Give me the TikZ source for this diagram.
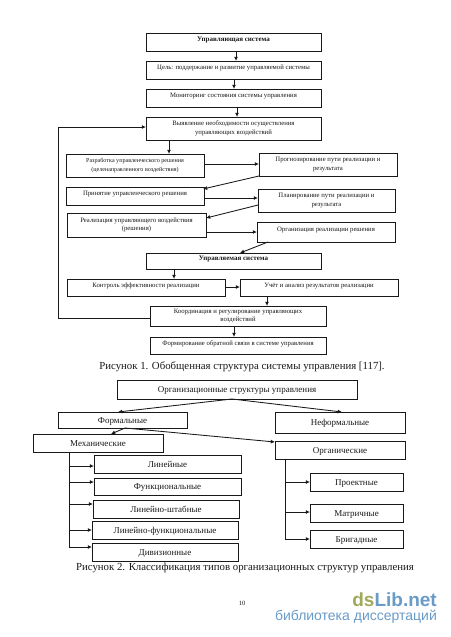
\documentclass[tikz,border=0pt]{standalone}
\usepackage{fontspec}
\setmainfont{Liberation Serif}
\newfontfamily\wmfont{Liberation Sans}
\usetikzlibrary{arrows.meta}
\definecolor{wmgreen}{RGB}{160,170,90}
\definecolor{wmblue}{RGB}{105,155,200}
\definecolor{ink}{RGB}{25,25,25}
\tikzset{
  bx/.style={draw=ink,line width=0.85pt,outer sep=0pt,inner sep=0pt,align=center,text=ink,font=\fontsize{6.7}{8.6}\selectfont},
  lift/.style={text height=5pt,text depth=5.5pt},
  widetxt/.style={font=\fontsize{6.7}{9.6}\selectfont},
  smalltxt/.style={font=\fontsize{6.1}{9}\selectfont},
  largetxt/.style={font=\fontsize{9}{11}\selectfont,text height=8.5pt,text depth=2pt},
  boldtxt/.style={font=\fontsize{7}{9}\selectfont\bfseries},
  arr/.style={draw=ink,line width=0.85pt,-{Latex[length=4.2pt,width=4pt]}},
  ln/.style={draw=ink,line width=0.85pt},
  captext/.style={text=ink,inner sep=0pt,font=\fontsize{10.8}{12}\selectfont}
}
\newcommand\tbx[7][]{\node[bx,#1,minimum width={(#5-#3)*1pt},minimum height={(#6-#4)*1pt}] (#2) at ({(#3+#5)/2},{(#4+#6)/2}) {#7};}
\begin{document}
\begin{tikzpicture}[x=1pt,y=-1pt]
\useasboundingbox[fill=white] (0,0) rectangle (450,637);
% Figure 1
\tbx[boldtxt,lift]{a}{146}{33}{321}{51}{Управляющая система}
\tbx[lift]{b}{146}{61}{321}{79}{Цель: поддержание и развитие управляемой системы}
\tbx[lift]{c}{146}{89}{321}{107}{Мониторинг состояния системы управления}
\tbx[widetxt]{d}{146}{117}{321}{140}{Выявление необходимости осуществления\\управляющих воздействий}
\tbx[smalltxt]{e}{66}{154}{204}{177}{Разработка управленческого решения\\(целенаправленного воздействия)}
\tbx{f}{259}{153}{397}{176}{Прогнозирование пути реализации и\\результата}
\tbx[lift]{g}{66}{187}{204}{205}{Принятие управленческого решения}
\tbx{h}{258}{189}{395}{212}{Планирование пути реализации и\\результата}
\tbx{i}{67}{213}{206}{237}{Реализация управляющего воздействия\\(решения)}
\tbx[lift]{j}{257}{222}{395}{242}{Организация реализации решения}
\tbx[boldtxt,lift]{k}{146}{253}{321}{269}{Управляемая система}
\tbx[lift]{l}{67}{279}{225}{296}{Контроль эффективности реализации}
\tbx[lift]{m}{240}{279}{398}{296}{Учёт и анализ результатов реализации}
\tbx{n}{150}{306}{326}{326}{Координация и регулирование управляющих\\воздействий}
\tbx[lift]{o}{150}{337}{326}{354}{Формирование обратной связи в системе управления}
\draw[arr] ([xshift=90pt]a.south west) -- ([xshift=90pt]b.north west);
\draw[arr] ([xshift=88pt]b.south west) -- ([xshift=88pt]c.north west);
\draw[arr] ([xshift=91pt]c.south west) -- ([xshift=91pt]d.north west);
\draw[arr] ([xshift=23pt]d.south west) -- ([xshift=103pt]e.north west);
\draw[arr] ([yshift=-10pt]e.north east) -- ([yshift=-11pt]f.north west);
\draw[arr] (f.south west) -- ([xshift=-1pt,yshift=-2pt]g.north east);
\draw[arr] ([yshift=-11pt]g.north east) -- ([yshift=-9pt]h.north west);
\draw[arr] ([yshift=-16pt]h.north west) -- ([yshift=-5pt]i.north east);
\draw[arr] ([yshift=-19pt]i.north east) -- ([yshift=-10pt]j.north west);
\draw[arr] ([xshift=11pt]j.south west) -- ([xshift=94pt]k.north west);
\draw[arr] ([xshift=28pt]k.south west) -- ([xshift=107pt]l.north west);
\draw[arr] ([yshift=-8pt]l.north east) -- ([yshift=-8pt]m.north west);
\draw[arr] ([xshift=27pt]m.south west) -- ([xshift=117pt]n.north west);
\draw[arr] ([xshift=84pt]n.south west) -- ([xshift=84pt]o.north west);
\coordinate (fbA) at (58,318);
\coordinate (fbB) at (58,127);
\draw[arr] ([yshift=-12pt]n.north west) -- (fbA) -- (fbB) -- ([yshift=-10pt]d.north west);
\node[captext] (cap1) at (242,367) {Рисунок 1. Обобщенная структура системы управления [117].};
% Figure 2
\tbx[largetxt]{r}{117}{380}{357}{399}{Организационные структуры управления}
\tbx[largetxt]{s}{58}{412}{187}{428}{Формальные}
\tbx[largetxt]{t}{275}{412}{405}{433}{Неформальные}
\tbx[largetxt]{u}{33}{434}{163}{452}{Механические}
\tbx[largetxt]{v}{275}{441}{405}{459}{Органические}
\tbx[largetxt]{w1}{94}{455}{241}{473}{Линейные}
\tbx[largetxt]{w2}{94}{478}{241}{495}{Функциональные}
\tbx[largetxt]{w3}{93}{500}{239}{518}{Линейно-штабные}
\tbx[largetxt]{w4}{92}{521}{238}{539}{Линейно-функциональные}
\tbx[largetxt]{w5}{92}{543}{238}{561}{Дивизионные}
\tbx[largetxt]{x1}{310}{473}{403}{491}{Проектные}
\tbx[largetxt]{x2}{310}{504}{403}{522}{Матричные}
\tbx[largetxt]{x3}{310}{530}{403}{548}{Бригадные}
\draw[arr] ([xshift=115pt]r.south west) -- ([xshift=60pt]s.north west);
\draw[arr] ([xshift=115pt]r.south west) -- ([xshift=67pt]t.north west);
\draw[arr] ([xshift=67pt]s.south west) -- ([xshift=78pt]u.north west);
\draw[arr] ([xshift=67pt]s.south west) -- ([yshift=-1pt]v.north west);
\coordinate (ma) at (69,547);
\draw[ln] ([xshift=36pt]u.south west) -- (ma);
\coordinate (m1) at (69,466);
\coordinate (m2) at (69,482);
\coordinate (m3) at (69,504);
\coordinate (m4) at (69,530);
\draw[arr] (m1) -- ([yshift=-11pt]w1.north west);
\draw[arr] (m2) -- ([yshift=-4pt]w2.north west);
\draw[arr] (m3) -- ([yshift=-4pt]w3.north west);
\draw[arr] (m4) -- ([yshift=-9pt]w4.north west);
\draw[arr] (ma) -- ([yshift=-4pt]w5.north west);
\coordinate (oa) at (285,539);
\coordinate (o1) at (285,482);
\coordinate (o2) at (285,512);
\draw[ln] ([xshift=10pt]v.south west) -- (oa);
\draw[arr] (o1) -- ([yshift=-9pt]x1.north west);
\draw[arr] (o2) -- ([yshift=-8pt]x2.north west);
\draw[arr] (oa) -- ([yshift=-9pt]x3.north west);
\node[captext] (cap2) at (245,568) {Рисунок 2. Классификация типов организационных структур управления};
% Footer
\node[inner sep=0pt,text=ink,font=\fontsize{6.5}{8}\selectfont] (pg) at (242,603) {10};
\node[anchor=east,inner sep=0pt,font=\wmfont\fontsize{19}{20}\selectfont\bfseries] (wm1) at (437,600) {\textcolor{wmgreen}{ds}\textcolor{wmblue}{Lib.net}};
\node[anchor=east,inner sep=0pt,text=wmblue,font=\wmfont\fontsize{14}{15}\selectfont] (wm2) at (437,617) {библиотека диссертаций};
\end{tikzpicture}
\end{document}
